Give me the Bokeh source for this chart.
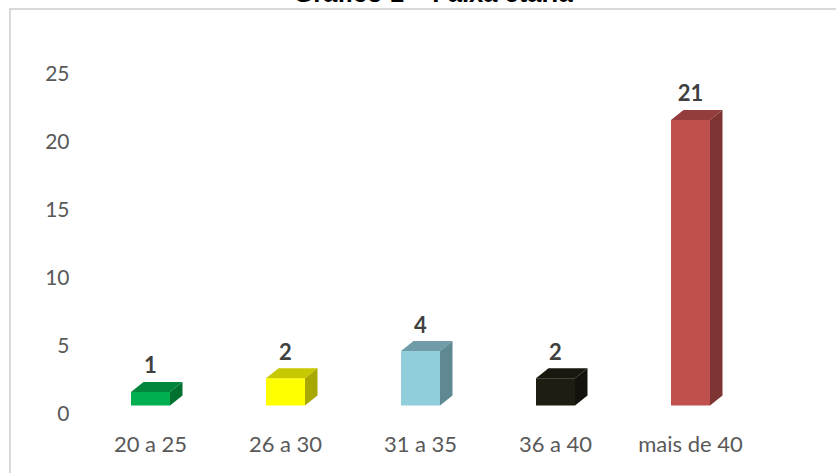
from bokeh.plotting import figure
from bokeh.models import Range1d, LinearAxis, FixedTicker
from bokeh.embed import file_html
from bokeh.resources import INLINE
from bokeh.core.properties import value

# ---- data ----
title_text = "Gráfico 1 – Faixa etária"
categories = ["20 a 25", "26 a 30", "31 a 35", "36 a 40", "mais de 40"]
counts = [1, 2, 4, 2, 21]
y_ticks = [0, 5, 10, 15, 20, 25]

# ---- styles ----
front_colors = ["#00B050", "#FFFF00", "#92CDDC", "#1F1C12", "#C0504D"]
top_colors = ["#00873D", "#C8C800", "#709CA8", "#1A170F", "#933E3C"]
side_colors = ["#00712F", "#A8A800", "#5F8893", "#14120C", "#7D3432"]

PX_X = 135.0   # pixels per category
PX_Y = 13.6    # pixels per unit
half_w = 19.5 / PX_X
dx = 12.5 / PX_X
dy = 10.0 / PX_Y
label_gap = 27.0 / PX_Y

FRAME_W = 756
FRAME_H = 431
X0 = -70 / PX_X
Y0 = -14 / PX_Y

xs = list(range(len(categories)))

p = figure(width=828, height=485, output_backend="svg", toolbar_location=None,
           x_range=Range1d(X0, X0 + FRAME_W / PX_X),
           y_range=Range1d(Y0, Y0 + FRAME_H / PX_Y),
           y_axis_location=None,
           min_border_left=72, min_border_right=0, min_border_top=0, min_border_bottom=54)
p.margin = (-12, 0, 0, 8)
p.extra_y_ranges = {"ax": Range1d(-6 / PX_Y, -6 / PX_Y + FRAME_H / PX_Y)}

# transparent canvas, chart border painted on the figure's own element
p.border_fill_color = None
p.background_fill_color = None
p.styles = {
    "background-color": "white",
    "background-image": "linear-gradient(#D9D9D9, #D9D9D9), linear-gradient(#D9D9D9, #D9D9D9)",
    "background-size": "827px 2px, 2px 465px",
    "background-position": "1px 20px, 1px 20px",
    "background-repeat": "no-repeat",
}

yax = LinearAxis(y_range_name="ax", ticker=FixedTicker(ticks=y_ticks))
p.add_layout(yax, "left")

p.xaxis.ticker = FixedTicker(ticks=xs)
p.xaxis.major_label_overrides = {i: c for i, c in zip(xs, categories)}

for ax in [p.xaxis[0], yax]:
    ax.axis_line_color = None
    ax.major_tick_line_color = None
    ax.minor_tick_line_color = None
    ax.major_label_text_font = "Lato"
    ax.major_label_text_color = "#595959"
p.xaxis.major_label_text_font_size = "22px"
yax.major_label_text_font_size = "21px"
p.xaxis.major_label_standoff = 4
yax.major_label_standoff = 5

p.xgrid.grid_line_color = None
p.ygrid.grid_line_color = None
p.outline_line_color = None

# front faces
p.quad(left=[x - half_w for x in xs], right=[x + half_w for x in xs],
       bottom=[0] * len(xs), top=counts, fill_color=front_colors, line_color=None)
# top faces
p.patches(xs=[[x - half_w, x + half_w, x + half_w + dx, x - half_w + dx] for x in xs],
          ys=[[v, v, v + dy, v + dy] for v in counts],
          fill_color=top_colors, line_color=None)
# side faces
p.patches(xs=[[x + half_w, x + half_w + dx, x + half_w + dx, x + half_w] for x in xs],
          ys=[[0, dy, v + dy, v] for v in counts],
          fill_color=side_colors, line_color=None)

# value labels
p.text(x=xs, y=[v + label_gap for v in counts], text=[str(v) for v in counts],
       text_align="center", text_baseline="alphabetic",
       text_font=value("Lato"), text_font_style="bold", text_font_size="22px",
       text_color="#404040")

# title (its upper part lies above the page)
p.text(x=[X0 + (424.5 - 72) / PX_X], y=[Y0 + (FRAME_H - 4.5) / PX_Y], text=[title_text],
       text_align="center", text_baseline="alphabetic",
       text_font=value("Liberation Sans"), text_font_style="bold", text_font_size="25.5px",
       text_color="black")

open("out.html", "w").write(file_html(p, INLINE))
